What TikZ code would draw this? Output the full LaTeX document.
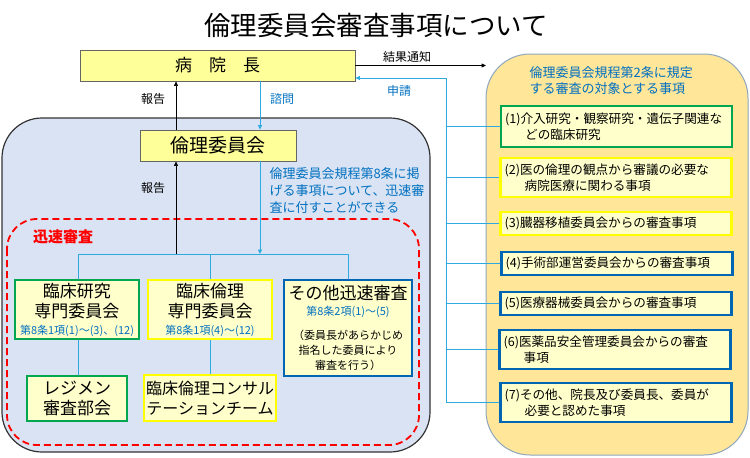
\documentclass[tikz,border=0pt]{standalone}
\usepackage{fontspec}
\setmainfont{Noto Sans CJK JP}
\usetikzlibrary{arrows.meta}

\definecolor{headyellow}{HTML}{FFFF99}
\definecolor{paleyellow}{HTML}{FFFFCC}
\definecolor{regionblue}{HTML}{DAE3F3}
\definecolor{regionorange}{HTML}{FFE699}
\definecolor{framegray}{HTML}{8FA6BC}
\definecolor{linkblue}{HTML}{2EAAE1}
\definecolor{textblue}{HTML}{0070C0}
\definecolor{framegreen}{HTML}{00A650}
\definecolor{frameyellow}{HTML}{FFFF00}
\definecolor{frameblue}{HTML}{0066B3}

\begin{document}
\begin{tikzpicture}[x=1pt, y=-1pt,
		headbox/.style={draw=gray!80!black, fill=headyellow, line width=0.8pt, inner sep=0pt},
		unitbox/.style={fill=paleyellow, line width=2.2pt, inner sep=0pt, align=center, font=\fontsize{17}{20}\selectfont},
		itembox/.style={fill=paleyellow, line width=2.2pt, inner xsep=4pt, inner ysep=0pt, minimum width=231pt, text width=223pt, align=left, font=\fontsize{12.6}{16}\selectfont},
		linkline/.style={draw=linkblue, line width=0.8pt},
		linkarrow/.style={linkline, -{Triangle[length=4.5pt,width=4pt]}},
		reportarrow/.style={draw=black, line width=0.6pt, -{Triangle[length=4.5pt,width=4pt]}},
		tag/.style={font=\fontsize{12}{14}\selectfont},
		smallblue/.style={font=\fontsize{11}{13}\selectfont, text=textblue}]
		\useasboundingbox (0,0) rectangle (750,458);
		
		\draw[fill=regionblue, draw=black!80, line width=1.2pt, rounded corners=40pt] (2,118) rectangle (430,452);
		\draw[fill=regionorange, draw=framegray, line width=1pt, rounded corners=44pt] (486,54) rectangle (748,455);
		\draw[red, line width=1.8pt, dash pattern=on 7pt off 4pt, rounded corners=30pt] (7,219) rectangle (419,445);
		
		\node[font=\fontsize{26.5}{30}\selectfont] (title) at (376,25) {倫理委員会審査事項について};
		
		\node[headbox, minimum width=275pt, minimum height=31pt, font=\fontsize{17}{20}\selectfont] (director) at (217.5,65.5) {病　院　長};
		\node[headbox, minimum width=156pt, minimum height=31pt, font=\fontsize{19}{22}\selectfont] (committee) at (218,145.5) {倫理委員会};
		
		\node[tag] (report1) at (153,99) {報告};
		\node[tag] (report2) at (153,188) {報告};
		\node[tag, text=textblue] (inquiry) at (282,99) {諮問};
		\node[tag] (result) at (407,57) {結果通知};
		\node[tag, text=textblue] (apply) at (399,91) {申請};
		\node[anchor=north west, text=textblue, align=left, font=\fontsize{13}{17}\selectfont] (rapidnote) at (266,164) {倫理委員会規程第8条に掲\\げる事項について、迅速審\\査に付すことができる};
		\node[text=red, font=\fontsize{15}{18}\selectfont\bfseries] (rapid) at (63,237) {迅速審査};
		
		\node[unitbox, draw=framegreen, minimum width=124pt, minimum height=59pt] (clinres) at (77,309.5) {臨床研究\\専門委員会\\[-3pt]{\fontsize{11}{13}\selectfont\color{textblue}第8条1項(1)〜(3)、(12)}};
		\node[unitbox, draw=frameyellow, minimum width=124pt, minimum height=59pt] (clineth) at (210,309.5) {臨床倫理\\専門委員会\\[-3pt]{\fontsize{11}{13}\selectfont\color{textblue}第8条1項(4)〜(12)}};
		\node[unitbox, draw=frameblue, minimum width=128pt, minimum height=96pt] (other) at (348,328) {その他迅速審査\\[-4pt]{\fontsize{11}{13}\selectfont\color{textblue}第8条2項(1)〜(5)}\\[4pt]{\fontsize{11}{13}\selectfont （委員長があらかじめ}\\[-5pt]{\fontsize{11}{13}\selectfont 指名した委員により}\\[-5pt]{\fontsize{11}{13}\selectfont 審査を行う）}};
		\node[unitbox, draw=framegreen, minimum width=100pt, minimum height=45pt] (regimen) at (77,398.5) {レジメン\\審査部会};
		\node[unitbox, draw=frameyellow, minimum width=132pt, minimum height=46pt, font=\fontsize{16}{20}\selectfont] (consult) at (210,398) {臨床倫理コンサル\\テーションチーム};
		
		\node[anchor=north west, text=textblue, align=left, font=\fontsize{13}{15.5}\selectfont] (scopetitle) at (526,63) {倫理委員会規程第2条に規定\\する審査の対象とする事項};
		\node[itembox, draw=framegreen, minimum height=41pt] (item1) at (616.5,126.5) {(1)介入研究・観察研究・遺伝子関連な\\\hspace*{1.6em}どの臨床研究};
		\node[itembox, draw=frameyellow, minimum height=39pt] (item2) at (616,177.5) {(2)医の倫理の観点から審議の必要な\\\hspace*{1.6em}病院医療に関わる事項};
		\node[itembox, draw=frameyellow, minimum height=23pt] (item3) at (616,223.5) {(3)臓器移植委員会からの審査事項};
		\node[itembox, draw=frameblue, minimum height=23pt] (item4) at (617,263.5) {(4)手術部運営委員会からの審査事項};
		\node[itembox, draw=frameblue, minimum height=23pt] (item5) at (616,303.5) {(5)医療器械委員会からの審査事項};
		\node[itembox, draw=frameblue, minimum height=39pt] (item6) at (615,349.5) {(6)医薬品安全管理委員会からの審査\\\hspace*{1.6em}事項};
		\node[itembox, draw=frameblue, minimum height=39pt] (item7) at (616,402.5) {(7)その他、院長及び委員長、委員が\\\hspace*{1.6em}必要と認めた事項};
		
		\coordinate (busleft) at (78,254);
		\coordinate (busright) at (348,254);
		\coordinate (reportfoot) at (176,254);
		\coordinate (referfoot) at (260,254);
		\coordinate (applytop) at (446,78);
		\coordinate (resultend) at (486,65.5);
		
		\draw[reportarrow] (reportfoot) -- (reportfoot |- committee.south);
		\draw[reportarrow] (reportfoot |- committee.north) -- (reportfoot |- director.south);
		\draw[linkarrow] (referfoot |- director.south) -- (referfoot |- committee.north);
		\draw[linkarrow] (referfoot |- committee.south) -- (referfoot);
		\draw[linkline] (busleft |- clinres.north) -- (busleft) -- (busright) -- (busright |- other.north);
		\draw[linkline] (clineth.north) -- (clineth.north |- busleft);
		\draw[linkline] (clinres.south -| busleft) -- (busleft |- regimen.north);
		\draw[linkline] (clineth.south) -- (consult.north);
		
		\draw[reportarrow] (director.east) -- (resultend);
		\draw[linkarrow] (applytop) -- (applytop -| director.east);
		\draw[linkline] (applytop) -- (applytop |- item7.west);
		\foreach \i in {1,...,7}
			\draw[linkline] (applytop |- item\i.west) -- (item\i.west);
	\end{tikzpicture}
\end{document}
